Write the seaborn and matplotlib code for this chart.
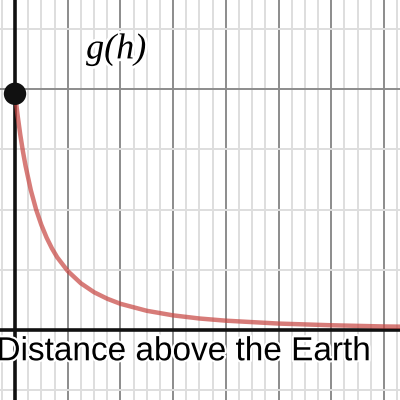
import numpy as np
import matplotlib
matplotlib.use("Agg")
import matplotlib.pyplot as plt
import matplotlib.patheffects as pe
import seaborn as sns

# distance above the surface (in Earth radii) and g(h)
height = [0, 0.05, 0.1, 0.15, 0.2, 0.3, 0.4, 0.5, 0.6, 0.7, 0.8, 1.0, 1.25, 1.5,
          1.75, 2.0, 2.5, 3.0, 3.5, 4.0, 5.0, 6.0, 7.0, 7.4]
g_vals = [9.8, 8.89, 8.10, 7.41, 6.81, 5.80, 5.00, 4.36, 3.83, 3.39, 3.02, 2.45,
          1.94, 1.57, 1.30, 1.09, 0.80, 0.61, 0.48, 0.39, 0.27, 0.20, 0.15, 0.14]
surface_h = [0]
surface_g = [9.8]

sns.set_style("white")

fig = plt.figure(figsize=(4, 4), dpi=100)
ax = fig.add_axes([0, 0, 1, 1])

x_min, x_max = -0.285, 7.305
y_min, y_max = -2.90, 13.69
ax.set_xlim(x_min, x_max)
ax.set_ylim(y_min, y_max)

# grid: minor then major
for x in np.arange(-0.25, 7.5, 0.25):
    major = abs(x - round(x)) < 1e-9
    ax.axvline(x, color="#8c8c8c" if major else "#dedede", lw=1.4, zorder=0)
for y in np.arange(-2.5, 14, 2.5):
    major = abs(y / 10 - round(y / 10)) < 1e-9
    ax.axhline(y, color="#8c8c8c" if major else "#dedede", lw=1.4, zorder=0)

ax.axvline(0, color="#111111", lw=2.6, zorder=1)
ax.axhline(0, color="#111111", lw=2.6, zorder=1)

sns.lineplot(x=height, y=g_vals, ax=ax, color="#c74440", alpha=0.7, lw=3.2,
             zorder=3, legend=False)
sns.scatterplot(x=surface_h, y=surface_g, ax=ax, color="#111111", s=260,
                edgecolor="none", zorder=4, legend=False)

ax.text(1.92, 11.62, "g(h)", fontsize=26, fontstyle="italic", color="black",
        family=["Liberation Serif", "DejaVu Serif"], ha="center", va="center",
        zorder=5, path_effects=[pe.withStroke(linewidth=4, foreground="white")])
ax.text(3.2, -0.9, "Distance above the Earth", fontsize=24, color="black",
        family=["Liberation Sans", "DejaVu Sans"], ha="center", va="center",
        zorder=5, path_effects=[pe.withStroke(linewidth=3, foreground="white")])

ax.set_xticks([])
ax.set_yticks([])
for s in ax.spines.values():
    s.set_visible(False)

fig.savefig("out.png", dpi=100)
